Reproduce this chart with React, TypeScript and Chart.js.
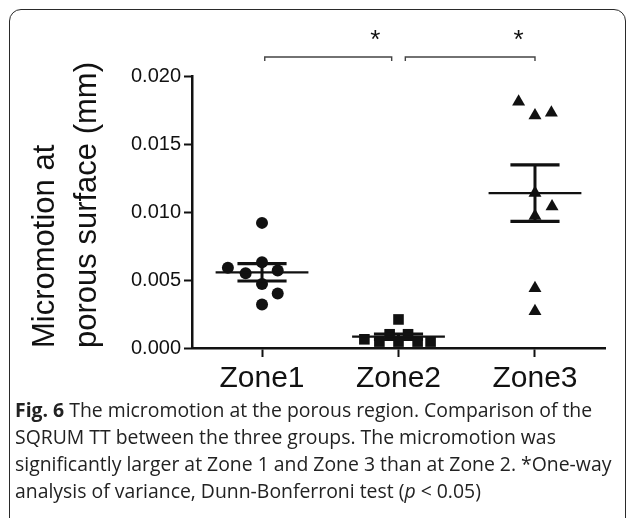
import React, { useEffect, useRef } from "react";
import { Chart, registerables } from "chart.js";

Chart.register(...registerables);

const categories = ["Zone1", "Zone2", "Zone3"];
const yTickValues = [0, 0.005, 0.01, 0.015, 0.02];
const yTitleLines = ["Micromotion at", "porous surface (mm)"];

const zone1Values = [0.0092, 0.0059, 0.0055, 0.0063, 0.0057, 0.0047, 0.004, 0.0032];
const zone1Jitter = [0, -0.25, -0.12, 0, 0.115, 0, 0.115, 0];

const zone2Values = [0.0021, 0.00064, 0.00047, 0.00101, 0.00047, 0.00101, 0.00047, 0.00047];
const zone2Jitter = [0, -0.25, -0.14, -0.065, 0, 0.07, 0.14, 0.235];

const zone3Values = [0.0181, 0.0171, 0.0173, 0.0114, 0.0104, 0.0097, 0.0044, 0.0027];
const zone3Jitter = [-0.12, 0, 0.12, 0, 0.125, 0, 0, 0];

const significancePairs = [
  { from: 0, to: 1, label: "*" },
  { from: 1, to: 2, label: "*" },
];

const groups = [
  { values: zone1Values, jitter: zone1Jitter, style: "circle", radius: 6 },
  { values: zone2Values, jitter: zone2Jitter, style: "rect", radius: 7.5 },
  { values: zone3Values, jitter: zone3Jitter, style: "triangle", radius: 7.5 },
];

function stats(values: number[]) {
  const n = values.length;
  const mean = values.reduce((a, b) => a + b, 0) / n;
  const sd = Math.sqrt(values.reduce((a, b) => a + (b - mean) * (b - mean), 0) / (n - 1));
  return { mean, sem: sd / Math.sqrt(n) };
}

const FONT = "'Liberation Sans', Arial, Helvetica, sans-serif";

const overlayPlugin = {
  id: "meanSemAndBrackets",
  afterDatasetsDraw(chart: any) {
    const { ctx, scales } = chart;
    const xs = scales.x;
    const ys = scales.y;
    ctx.save();
    ctx.strokeStyle = "#111";
    ctx.lineCap = "butt";
    groups.forEach((g, i) => {
      const { mean, sem } = stats(g.values);
      const yM = ys.getPixelForValue(mean);
      const yU = ys.getPixelForValue(mean + sem);
      const yL = ys.getPixelForValue(mean - sem);
      ctx.lineWidth = 2.2;
      ctx.beginPath();
      ctx.moveTo(xs.getPixelForValue(i - 0.34), yM);
      ctx.lineTo(xs.getPixelForValue(i + 0.34), yM);
      ctx.stroke();
      ctx.lineWidth = 3;
      ctx.beginPath();
      ctx.moveTo(xs.getPixelForValue(i), yU);
      ctx.lineTo(xs.getPixelForValue(i), yL);
      ctx.stroke();
      ctx.lineWidth = 3.2;
      [yU, yL].forEach((yy) => {
        ctx.beginPath();
        ctx.moveTo(xs.getPixelForValue(i - 0.18), yy);
        ctx.lineTo(xs.getPixelForValue(i + 0.18), yy);
        ctx.stroke();
      });
    });
    const top = chart.chartArea.top;
    const by = top - 19;
    ctx.strokeStyle = "#444";
    ctx.lineWidth = 1.4;
    ctx.fillStyle = "#111";
    ctx.font = `26px ${FONT}`;
    ctx.textAlign = "center";
    ctx.textBaseline = "middle";
    significancePairs.forEach((p, k) => {
      const x1 = xs.getPixelForValue(p.from + (k === 0 ? 0.02 : 0.05));
      const x2 = xs.getPixelForValue(p.to - (k === 0 ? 0.05 : 0));
      ctx.beginPath();
      ctx.moveTo(x1, by + 4);
      ctx.lineTo(x1, by);
      ctx.lineTo(x2, by);
      ctx.lineTo(x2, by + 4);
      ctx.stroke();
      const sx = xs.getPixelForValue(p.to - (k === 0 ? 0.17 : 0.12));
      ctx.fillText(p.label, sx, by - 16);
    });
    ctx.restore();
  },
};

function ChartCanvas() {
  const ref = useRef<HTMLCanvasElement | null>(null);
  useEffect(() => {
    if (!ref.current) return;
    const datasets = groups.map((g, i) => ({
      label: categories[i],
      data: g.values.map((v, j) => ({ x: i + g.jitter[j], y: v })),
      pointStyle: g.style,
      pointRadius: g.radius,
      pointHoverRadius: g.radius,
      backgroundColor: "#111",
      borderColor: "#111",
      borderWidth: 0,
      showLine: false,
      clip: false as any,
    }));
    const chart = new Chart(ref.current, {
      type: "scatter",
      data: { datasets },
      plugins: [overlayPlugin],
      options: {
        animation: false,
        responsive: false,
        devicePixelRatio: 1,
        layout: { padding: { left: 0, top: 76, right: 22, bottom: 0 } },
        plugins: { legend: { display: false }, tooltip: { enabled: false } },
        scales: {
          x: {
            type: "linear",
            min: -0.513,
            max: 2.513,
            afterBuildTicks: (s: any) => {
              s.ticks = categories.map((_, i) => ({ value: i }));
            },
            afterFit: (s: any) => {
              s.height = 52;
            },
            ticks: {
              callback: (v: any) => categories[Math.round(Number(v))] ?? "",
              font: { family: FONT, size: 30 },
              color: "#111",
              padding: 4,
              maxRotation: 0,
              autoSkip: false,
            },
            grid: {
              display: true,
              drawOnChartArea: false,
              drawTicks: true,
              tickLength: 9,
              tickWidth: 2,
              tickColor: "#111",
            },
            border: { display: true, width: 2.5, color: "#111" },
          },
          y: {
            type: "linear",
            min: 0,
            max: 0.02,
            afterBuildTicks: (s: any) => {
              s.ticks = yTickValues.map((v) => ({ value: v }));
            },
            afterFit: (s: any) => {
              s.width = 192;
            },
            ticks: {
              callback: (v: any) => Number(v).toFixed(3),
              font: { family: FONT, size: 20 },
              color: "#111",
              padding: 3,
            },
            grid: {
              display: true,
              drawOnChartArea: false,
              drawTicks: true,
              tickLength: 8,
              tickWidth: 2,
              tickColor: "#111",
            },
            border: { display: true, width: 2.5, color: "#111" },
            title: {
              display: true,
              text: yTitleLines,
              align: "start",
              color: "#111",
              font: { family: FONT, size: 31, lineHeight: 1.36 },
              padding: { top: 24, bottom: 0 },
            },
          },
        },
      },
    });
    return () => chart.destroy();
  }, []);
  return <canvas ref={ref} width={627} height={400} style={{ width: 627, height: 400, display: "block" }} />;
}

export default function App() {
  return (
    <>
      <div
        style={{
          position: "absolute",
          left: 9,
          top: 9,
          width: 617,
          height: 560,
          boxSizing: "border-box",
          border: "1.5px solid #2a2a2a",
          borderRadius: 12,
        }}
      />
      <div style={{ position: "absolute", left: 0, top: 0, width: 627, height: 400 }}>
        <ChartCanvas />
      </div>
      <div
        style={{
          position: "absolute",
          left: 15,
          top: 396,
          width: 605,
          fontFamily: "'Open Sans', sans-serif",
          fontSize: 19.4,
          lineHeight: "27px",
          color: "#222",
          whiteSpace: "nowrap",
        }}
      >
        <b>Fig. 6</b> The micromotion at the porous region. Comparison of the
        <br />
        SQRUM TT between the three groups. The micromotion was
        <br />
        significantly larger at Zone 1 and Zone 3 than at Zone 2. *One-way
        <br />
        analysis of variance, Dunn-Bonferroni test (<i>p</i> &lt; 0.05)
      </div>
    </>
  );
}
